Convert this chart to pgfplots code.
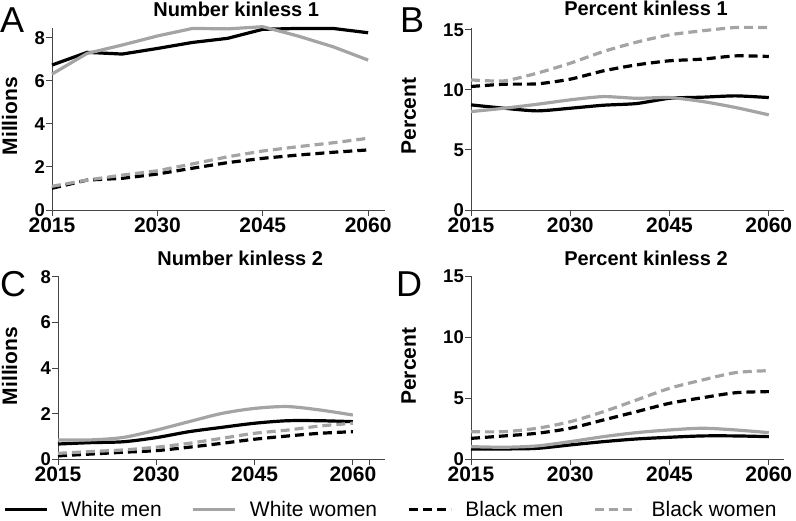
\documentclass[border=0pt]{standalone}
\usepackage{fontspec}
\setmainfont{Liberation Sans}
\usepackage{pgfplots}
\usepackage{pgfplotstable}
\pgfplotsset{compat=1.18}
\definecolor{lgray}{RGB}{164,164,164}
\definecolor{axgray}{RGB}{70,70,70}

\pgfplotstableread{
year wm ww bm bw
2015 6.73 6.31 1.01 1.10
2020 7.32 7.27 1.39 1.39
2025 7.24 7.66 1.47 1.62
2030 7.50 8.08 1.67 1.82
2035 7.78 8.43 1.94 2.14
2040 7.97 8.41 2.20 2.47
2045 8.39 8.51 2.40 2.74
2050 8.43 8.08 2.55 2.94
2055 8.43 7.58 2.68 3.12
2060 8.23 6.96 2.79 3.33
}\tabA
\pgfplotstableread{
year wm ww bm bw
2015 8.75 8.19 10.28 10.83
2020 8.47 8.47 10.47 10.75
2025 8.25 8.80 10.50 11.39
2030 8.47 9.17 10.89 12.22
2035 8.72 9.44 11.58 13.19
2040 8.86 9.30 12.08 13.97
2045 9.30 9.36 12.42 14.58
2050 9.39 9.03 12.56 14.92
2055 9.50 8.53 12.83 15.19
2060 9.36 7.92 12.78 15.19
}\tabB
\pgfplotstableread{
year wm ww bm bw
2015 0.67 0.85 0.15 0.26
2020 0.73 0.85 0.23 0.34
2025 0.77 0.96 0.31 0.41
2030 0.95 1.28 0.38 0.53
2035 1.21 1.65 0.53 0.70
2040 1.40 2.01 0.70 0.92
2045 1.58 2.23 0.88 1.14
2050 1.69 2.31 1.02 1.28
2055 1.69 2.16 1.14 1.46
2060 1.65 1.94 1.21 1.58
}\tabC
\pgfplotstableread{
year wm ww bm bw
2015 0.85 1.04 1.72 2.27
2020 0.85 0.99 1.92 2.27
2025 0.90 1.10 2.14 2.55
2030 1.18 1.45 2.55 3.09
2035 1.45 1.86 3.23 3.91
2040 1.67 2.19 3.91 4.87
2045 1.81 2.41 4.60 5.83
2050 1.92 2.55 5.06 6.52
2055 1.92 2.41 5.47 7.12
2060 1.86 2.19 5.56 7.28
}\tabD

\pgfplotsset{
  panel/.style={
    scale only axis,
    axis lines=left,
    axis line style={-, axgray, line width=0.9pt},
    tick align=outside,
    major tick length=6pt,
    tick style={axgray, line width=0.9pt},
    xmin=2015,
    xtick={2015,2030,2045,2060},
    ymin=0,
    /pgf/number format/assume math mode=true,
    /pgf/number format/1000 sep={},
    xticklabel style={font=\bfseries\fontsize{21}{21}\selectfont, inner sep=1.5pt},
    yticklabel style={font=\bfseries\fontsize{18.5}{18.5}\selectfont, inner sep=1pt},
    label style={font=\bfseries\fontsize{21}{21}\selectfont},
    title style={font=\bfseries\fontsize{20}{20}\selectfont, anchor=base},
    clip=false,
    anchor=south west,
  },
  wm/.style={black, line width=3.2pt},
  ww/.style={lgray, line width=3.2pt},
  bm/.style={black, line width=3.2pt, dash pattern=on 9pt off 5pt},
  bw/.style={lgray, line width=3.2pt, dash pattern=on 9pt off 5pt},
}

\begin{document}
\begin{tikzpicture}[x=1pt,y=1pt]
\path[use as bounding box] (0,0) rectangle (796pt,520pt);

% Panel A
\begin{axis}[panel, at={(52pt,310pt)}, width=333pt, height=182pt,
  xmax=2062.4, ymax=8.45, ytick={0,2,4,6,8},
  title={Number kinless 1}, title style={at={(axis description cs:0.553,1)}, yshift=6pt},
  ylabel={Millions}, ylabel style={at={(axis description cs:-0.105,0.516)}, anchor=base}]
\addplot[wm] table[x=year,y=wm]{\tabA};
\addplot[ww] table[x=year,y=ww]{\tabA};
\addplot[bm] table[x=year,y=bm]{\tabA};
\addplot[bw] table[x=year,y=bw]{\tabA};
\end{axis}

% Panel B
\begin{axis}[panel, at={(471pt,310pt)}, width=313pt, height=182pt,
  xmax=2062.3, ymax=15.15, ytick={0,5,10,15},
  title={Percent kinless 1}, title style={at={(axis description cs:0.559,1)}, yshift=6pt},
  ylabel={Percent}, ylabel style={at={(axis description cs:-0.176,0.516)}, anchor=base}]
\addplot[wm, smooth, tension=0.4] table[x=year,y=wm]{\tabB};
\addplot[ww, smooth, tension=0.4] table[x=year,y=ww]{\tabB};
\addplot[bm, smooth, tension=0.4] table[x=year,y=bm]{\tabB};
\addplot[bw, smooth, tension=0.4] table[x=year,y=bw]{\tabB};
\end{axis}

% Panel C
\begin{axis}[panel, at={(58pt,60.7pt)}, width=327pt, height=183.7pt,
  xmax=2064.9, ymax=8.05, ytick={0,2,4,6,8},
  extra x ticks={2062.5}, extra x tick labels={},
  title={Number kinless 2}, title style={at={(axis description cs:0.557,1)}, yshift=4pt},
  ylabel={Millions}, ylabel style={at={(axis description cs:-0.125,0.508)}, anchor=base}]
\addplot[wm, smooth, tension=0.5] table[x=year,y=wm]{\tabC};
\addplot[ww, smooth, tension=0.5] table[x=year,y=ww]{\tabC};
\addplot[bm, smooth, tension=0.5] table[x=year,y=bm]{\tabC};
\addplot[bw, smooth, tension=0.5] table[x=year,y=bw]{\tabC};
\end{axis}

% Panel D
\begin{axis}[panel, at={(471pt,60.7pt)}, width=313pt, height=183.2pt,
  xmax=2062.3, ymax=15.05, ytick={0,5,10,15},
  title={Percent kinless 2}, title style={at={(axis description cs:0.559,1)}, yshift=4.5pt},
  ylabel={Percent}, ylabel style={at={(axis description cs:-0.176,0.508)}, anchor=base}]
\addplot[wm, smooth, tension=0.5] table[x=year,y=wm]{\tabD};
\addplot[ww, smooth, tension=0.5] table[x=year,y=ww]{\tabD};
\addplot[bm, smooth, tension=0.5] table[x=year,y=bm]{\tabD};
\addplot[bw, smooth, tension=0.5] table[x=year,y=bw]{\tabD};
\end{axis}

% Legend
\begin{axis}[at={(0pt,1pt)}, anchor=south west, scale only axis, width=796pt, height=19pt,
  hide axis, xmin=0, xmax=1, ymin=0, ymax=1,
  legend columns=4,
  legend image code/.code={\draw[#1] (0pt,0pt) -- (42pt,0pt);},
  legend style={at={(axis description cs:0.004,0.5)}, anchor=west, draw=none, fill=none,
    inner sep=0pt, outer sep=0pt,
    font=\fontsize{21}{21}\selectfont,
    nodes={inner xsep=0pt, inner ysep=0pt},
    /tikz/every odd column/.append style={column sep=13pt},
    /tikz/every even column/.append style={column sep=30pt}},
  legend entries={White men, White women, Black men, Black women}]
\addlegendimage{wm}
\addlegendimage{ww}
\addlegendimage{bm}
\addlegendimage{bw}
\end{axis}

\node[anchor=base west, font=\fontsize{36}{36}\selectfont, inner sep=0pt] at (0pt,487pt) {A};
\node[anchor=base west, font=\fontsize{36}{36}\selectfont, inner sep=0pt] at (400pt,487pt) {B};
\node[anchor=base west, font=\fontsize{36}{36}\selectfont, inner sep=0pt] at (0pt,223pt) {C};
\node[anchor=base west, font=\fontsize{36}{36}\selectfont, inner sep=0pt] at (396pt,223pt) {D};
\end{tikzpicture}
\end{document}
